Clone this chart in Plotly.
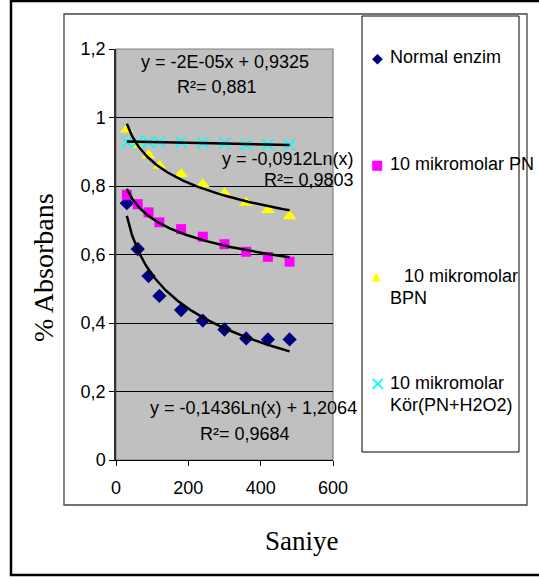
import numpy as np
import plotly.graph_objects as go

# ---- data ----
seconds = [30, 60, 90, 120, 180, 240, 300, 360, 420, 480]
normal_enzim = [0.750, 0.616, 0.537, 0.479, 0.438, 0.407, 0.381, 0.355, 0.352, 0.352]
pn_10 = [0.774, 0.747, 0.723, 0.694, 0.674, 0.652, 0.630, 0.608, 0.593, 0.579]
bpn_10 = [0.965, 0.920, 0.890, 0.859, 0.835, 0.805, 0.779, 0.751, 0.730, 0.712]
kor_10 = [0.928, 0.930, 0.928, 0.929, 0.928, 0.926, 0.925, 0.921, 0.921, 0.920]

y_ticks = [0, 0.2, 0.4, 0.6, 0.8, 1.0, 1.2]
y_ticktext = ["0", "0,2", "0,4", "0,6", "0,8", "1", "1,2"]
x_ticks = [0, 200, 400, 600]

W, H = 539, 579
PL, PR, PT, PB = 116, 333, 49, 460  # plot area in pixels


def px(x):
    return (x - PL) / (PR - PL)


def py(y):
    return (PB - y) / (PB - PT)


AR = "Arial, Liberation Sans, sans-serif"
TNR = "Times New Roman, Liberation Serif, serif"

fig = go.Figure()

xs = np.array(seconds, dtype=float)
xd = np.linspace(xs.min(), xs.max(), 200)


def log_fit(vals):
    a, b = np.polyfit(np.log(xs), np.array(vals), 1)
    return a * np.log(xd) + b


def lin_fit(vals):
    a, b = np.polyfit(xs, np.array(vals), 1)
    return a * xd + b


series = [
    ("Normal enzim", normal_enzim, dict(symbol="diamond", size=11, color="#000080"), log_fit),
    ("10 mikromolar PN", pn_10, dict(symbol="square", size=10, color="#FF00FF"), log_fit),
    ("10 mikromolar BPN", bpn_10, dict(symbol="triangle-up", size=12, color="#FFFF00"), log_fit),
    ("10 mikromolar Kör(PN+H2O2)", kor_10,
     dict(symbol="x-thin-open", size=11, color="#00FFFF", line=dict(width=1.6, color="#00FFFF")), lin_fit),
]

for name, vals, mk, fit in series:
    fig.add_trace(go.Scatter(x=seconds, y=vals, mode="markers", marker=mk, name=name,
                             showlegend=False, cliponaxis=False))

for name, vals, mk, fit in series:
    fig.add_trace(go.Scatter(x=xd, y=fit(vals), mode="lines", line=dict(color="black", width=2.5),
                             showlegend=False, hoverinfo="skip"))

shapes = []
# outer frame
shapes.append(dict(type="rect", xref="paper", yref="paper", x0=px(11), x1=px(560), y0=py(1), y1=py(575),
                   line=dict(color="black", width=2.5)))
# chart area frame
shapes.append(dict(type="rect", xref="paper", yref="paper", x0=px(64), x1=px(527), y0=py(14), y1=py(505),
                   line=dict(color="#444444", width=1.3)))
# legend box
shapes.append(dict(type="rect", xref="paper", yref="paper", x0=px(362), x1=px(519), y0=py(16), y1=py(452),
                   line=dict(color="black", width=1)))
# plot area border
shapes.append(dict(type="rect", xref="paper", yref="paper", x0=0, x1=1, y0=0, y1=1,
                   line=dict(color="#808080", width=1.2), layer="below"))

ann = []


def text(t, x, y, anchor="center", size=18, font=AR, angle=0, color="black"):
    ann.append(dict(text=t, xref="paper", yref="paper", x=px(x), y=py(y), xanchor=anchor, yanchor="middle",
                    showarrow=False, textangle=angle, font=dict(family=font, size=size, color=color)))


# trendline equations
text("y = -2E-05x + 0,9325", 225, 62)
text("R²= 0,881", 217, 87)
text("y = -0,0912Ln(x)", 356, 159, anchor="right")
text("R²= 0,9803", 356, 180, anchor="right")
text("y = -0,1436Ln(x) + 1,2064", 253, 408)
text("R²= 0,9684", 245, 434)

# legend symbols
DJ = "DejaVu Sans"
text("◆", 377, 58, size=14, font=DJ, color="#000080")
text("■", 377, 164, size=13, font=DJ, color="#FF00FF")
text("▲", 377, 276, size=12, font=DJ, color="#FFFF00")
text("×", 377, 383, size=20, font=DJ, color="#00FFFF")

# legend texts
text("Normal enzim", 388, 57, anchor="left")
text("10 mikromolar PN", 388, 164, anchor="left")
text("10 mikromolar", 402, 276, anchor="left")
text("BPN", 388, 298, anchor="left")
text("10 mikromolar", 388, 383, anchor="left")
text("Kör(PN+H2O2)", 388, 405, anchor="left")

# axis titles
text("% Absorbans", 43, 268, size=28, font=TNR, angle=-90)
text("Saniye", 302, 541, size=27, font=TNR)

fig.update_layout(
    width=W, height=H,
    margin=dict(l=PL, r=W - PR, t=PT, b=H - PB, pad=0),
    paper_bgcolor="white",
    plot_bgcolor="#C0C0C0",
    shapes=shapes,
    annotations=ann,
    xaxis=dict(range=[0, 600], tickvals=x_ticks, ticks="outside", ticklen=5, tickcolor="black",
               showline=True, linecolor="black", linewidth=1, showgrid=False, zeroline=False,
               tickfont=dict(family=AR, size=18, color="black"), ticklabelstandoff=6, fixedrange=True),
    yaxis=dict(range=[0, 1.2], tickvals=y_ticks, ticktext=y_ticktext, ticks="outside", ticklen=5,
               tickcolor="black", showline=True, linecolor="#333333", linewidth=1.5,
               showgrid=True, gridcolor="black", gridwidth=1, zeroline=False,
               tickfont=dict(family=AR, size=18, color="black"), ticklabelstandoff=0, fixedrange=True),
)

fig.write_html("out.html")
